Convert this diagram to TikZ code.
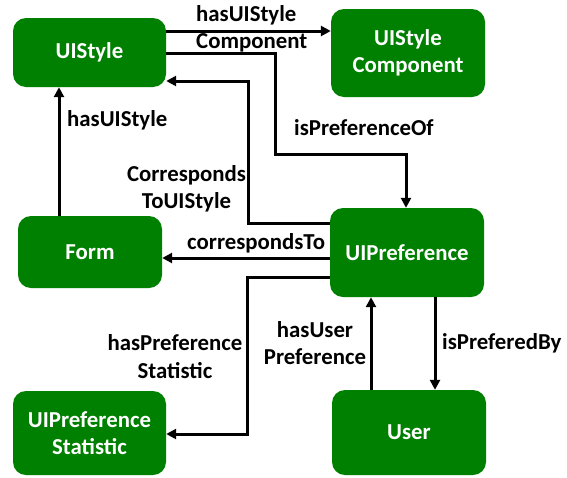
\documentclass[tikz,border=0pt]{standalone}
\usepackage{fontspec}
\setmainfont{Carlito}
\usetikzlibrary{arrows.meta}
\definecolor{boxgreen}{RGB}{0,128,0}
\begin{document}
\begin{tikzpicture}[x=1pt,y=-1pt,
  every node/.style={font=\fontsize{22.8}{27.5}\selectfont\bfseries, inner sep=0pt},
  box/.style={draw=none, fill=boxgreen, rounded corners=13pt, text=white, align=center},
  lbl/.style={text=black, align=center},
  conn/.style={line width=3pt, -{Triangle[length=10pt,width=10pt]}}]
\useasboundingbox (0,0) rectangle (567,477);
% boxes
\node[box, minimum width=153pt, minimum height=69pt] (uistyle) at (89.5,52.5) {UIStyle};
\node[box, minimum width=154pt, minimum height=88pt] (uisc) at (408,53) {UIStyle\\Component};
\node[box, minimum width=144pt, minimum height=72pt] (form) at (90,252) {Form};
\node[box, minimum width=154pt, minimum height=89pt] (uipref) at (407,252.5) {UIPreference};
\node[box, minimum width=153pt, minimum height=84pt] (uistat) at (89.5,433) {UIPreference\\Statistic};
\node[box, minimum width=154pt, minimum height=85pt] (user) at (409,432.5) {User};
% connectors
\draw[conn] (uistyle.east |- 0,31) -- (uisc.west |- 0,31);
\draw[conn] (uistyle.east |- 0,53) -- (275,53) -- (275,154) -| (uipref.north -| 406,0);
\draw[conn] (uipref.west |- 0,223) -- (248,223) |- (uistyle.east |- 0,81);
\draw[conn] (form.north -| 59,0) -- (uistyle.south -| 59,0);
\draw[conn] (uipref.west |- 0,258) -- (form.east |- 0,258);
\draw[conn] (uipref.west |- 0,277) -- (247,277) |- (uistat.east |- 0,434);
\draw[conn] (user.north -| 371,0) -- (uipref.south -| 371,0);
\draw[conn] (uipref.south -| 435,0) -- (user.north -| 435,0);
% labels
\node[lbl, align=left, anchor=west] (l1) at (196,29) {hasUIStyle\\Component};
\node[lbl, anchor=west] (l2) at (67,120) {hasUIStyle};
\node[lbl, anchor=west] (l3) at (294,128) {isPreferenceOf};
\node[lbl] (l4) at (186.5,189) {Corresponds\\ToUIStyle};
\node[lbl, anchor=west] (l5) at (187,243) {correspondsTo};
\node[lbl] (l6) at (175,356.5) {hasPreference\\Statistic};
\node[lbl] (l7) at (315,343) {hasUser\\Preference};
\node[lbl, anchor=west] (l8) at (442,343) {isPreferedBy};
\end{tikzpicture}
\end{document}
